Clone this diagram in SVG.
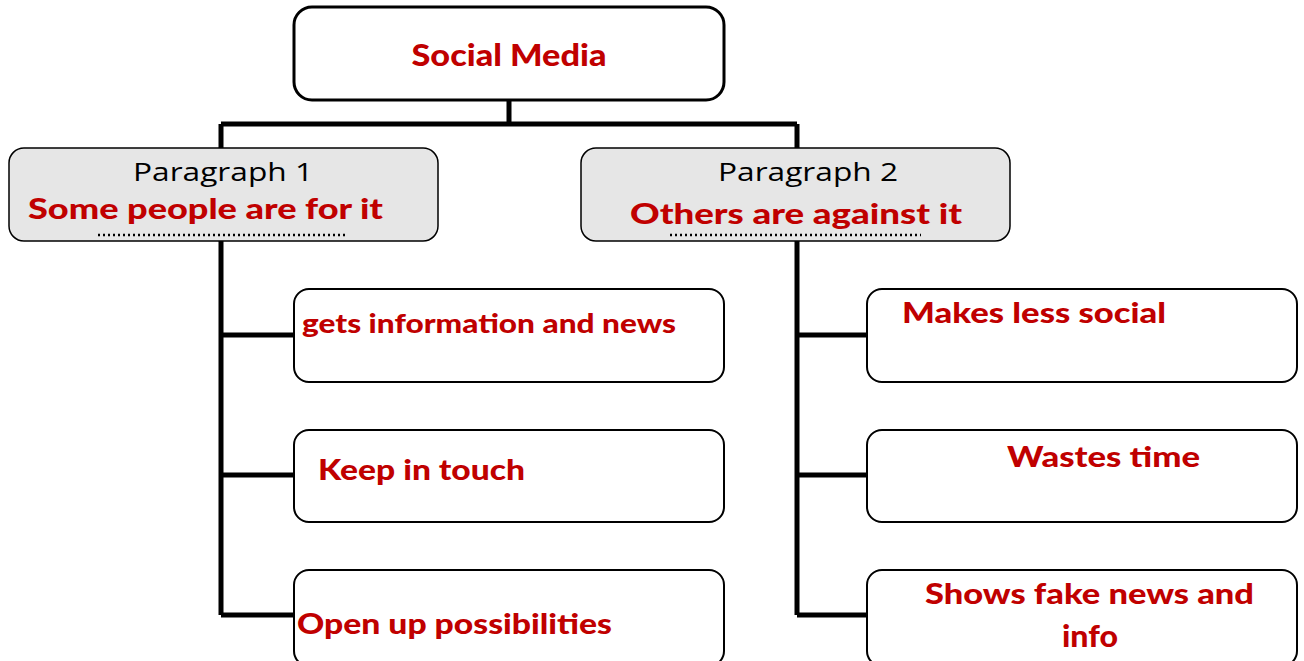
<svg xmlns="http://www.w3.org/2000/svg" width="1304" height="661" viewBox="0 0 1304 661">
<style>
.box{fill:#fff;stroke:#000;stroke-width:2}
.top{fill:#fff;stroke:#000;stroke-width:3}
.para{fill:#e6e6e6;stroke:#000;stroke-width:1.5}
.conn{fill:none;stroke:#000;stroke-width:5}
.red{font-family:"Comic Sans MS","Lato","DejaVu Sans",sans-serif;font-weight:900;fill:#c00000}
.blk{font-family:"Open Sans","Liberation Sans",sans-serif;fill:#000;font-size:26px}
.dots{stroke:#000;stroke-width:2.5;stroke-dasharray:2 3}
</style>
<rect width="1304" height="661" fill="#fff"/>
<g id="connectors">
<path class="conn" d="M509 100V124M221 124H797M221 124V148M797 124V148"/>
<path class="conn" d="M221 241V615M221 335H294M221 475H294M221 615H294"/>
<path class="conn" d="M797 241V615M797 335H867M797 475H867M797 615H867"/>
</g>
<g id="social-media">
<rect class="top" x="294" y="7" width="430" height="93" rx="18"/>
<text class="red" x="509" y="66" font-size="30" text-anchor="middle" textLength="195" lengthAdjust="spacingAndGlyphs">Social Media</text>
</g>
<g id="paragraph1">
<rect class="para" x="9" y="148" width="429" height="93" rx="15"/>
<text class="blk" x="133" y="181" textLength="180" lengthAdjust="spacingAndGlyphs">Paragraph 1</text>
<text class="red" x="28" y="219" font-size="28" textLength="355" lengthAdjust="spacingAndGlyphs">Some people are for it</text>
<line class="dots" x1="98" y1="235" x2="348" y2="235"/>
</g>
<g id="paragraph2">
<rect class="para" x="581" y="148" width="429" height="93" rx="15"/>
<text class="blk" x="718" y="181" textLength="180" lengthAdjust="spacingAndGlyphs">Paragraph 2</text>
<text class="red" x="630" y="224" font-size="28" textLength="332" lengthAdjust="spacingAndGlyphs">Others are against it</text>
<line class="dots" x1="670" y1="235" x2="921" y2="235"/>
</g>
<g id="gets-info">
<rect class="box" x="294" y="289" width="430" height="93" rx="15"/>
<text class="red" x="302" y="333" font-size="26" textLength="374" lengthAdjust="spacingAndGlyphs">gets information and news</text>
</g>
<g id="keep-in-touch">
<rect class="box" x="294" y="430" width="430" height="92" rx="15"/>
<text class="red" x="318" y="480" font-size="28" textLength="207" lengthAdjust="spacingAndGlyphs">Keep in touch</text>
</g>
<g id="open-up">
<rect class="box" x="294" y="570" width="430" height="96" rx="15"/>
<text class="red" x="297" y="634" font-size="28" textLength="315" lengthAdjust="spacingAndGlyphs">Open up possibilities</text>
</g>
<g id="makes-less-social">
<rect class="box" x="867" y="289" width="430" height="93" rx="15"/>
<text class="red" x="902" y="323" font-size="28" textLength="264" lengthAdjust="spacingAndGlyphs">Makes less social</text>
</g>
<g id="wastes-time">
<rect class="box" x="867" y="430" width="430" height="92" rx="15"/>
<text class="red" x="1007" y="467" font-size="28" textLength="193" lengthAdjust="spacingAndGlyphs">Wastes time</text>
</g>
<g id="fake-news">
<rect class="box" x="867" y="570" width="430" height="96" rx="15"/>
<text class="red" x="925" y="604" font-size="28" textLength="329" lengthAdjust="spacingAndGlyphs">Shows fake news and</text>
<text class="red" x="1062" y="647" font-size="30" textLength="56" lengthAdjust="spacingAndGlyphs">info</text>
</g>
</svg>
